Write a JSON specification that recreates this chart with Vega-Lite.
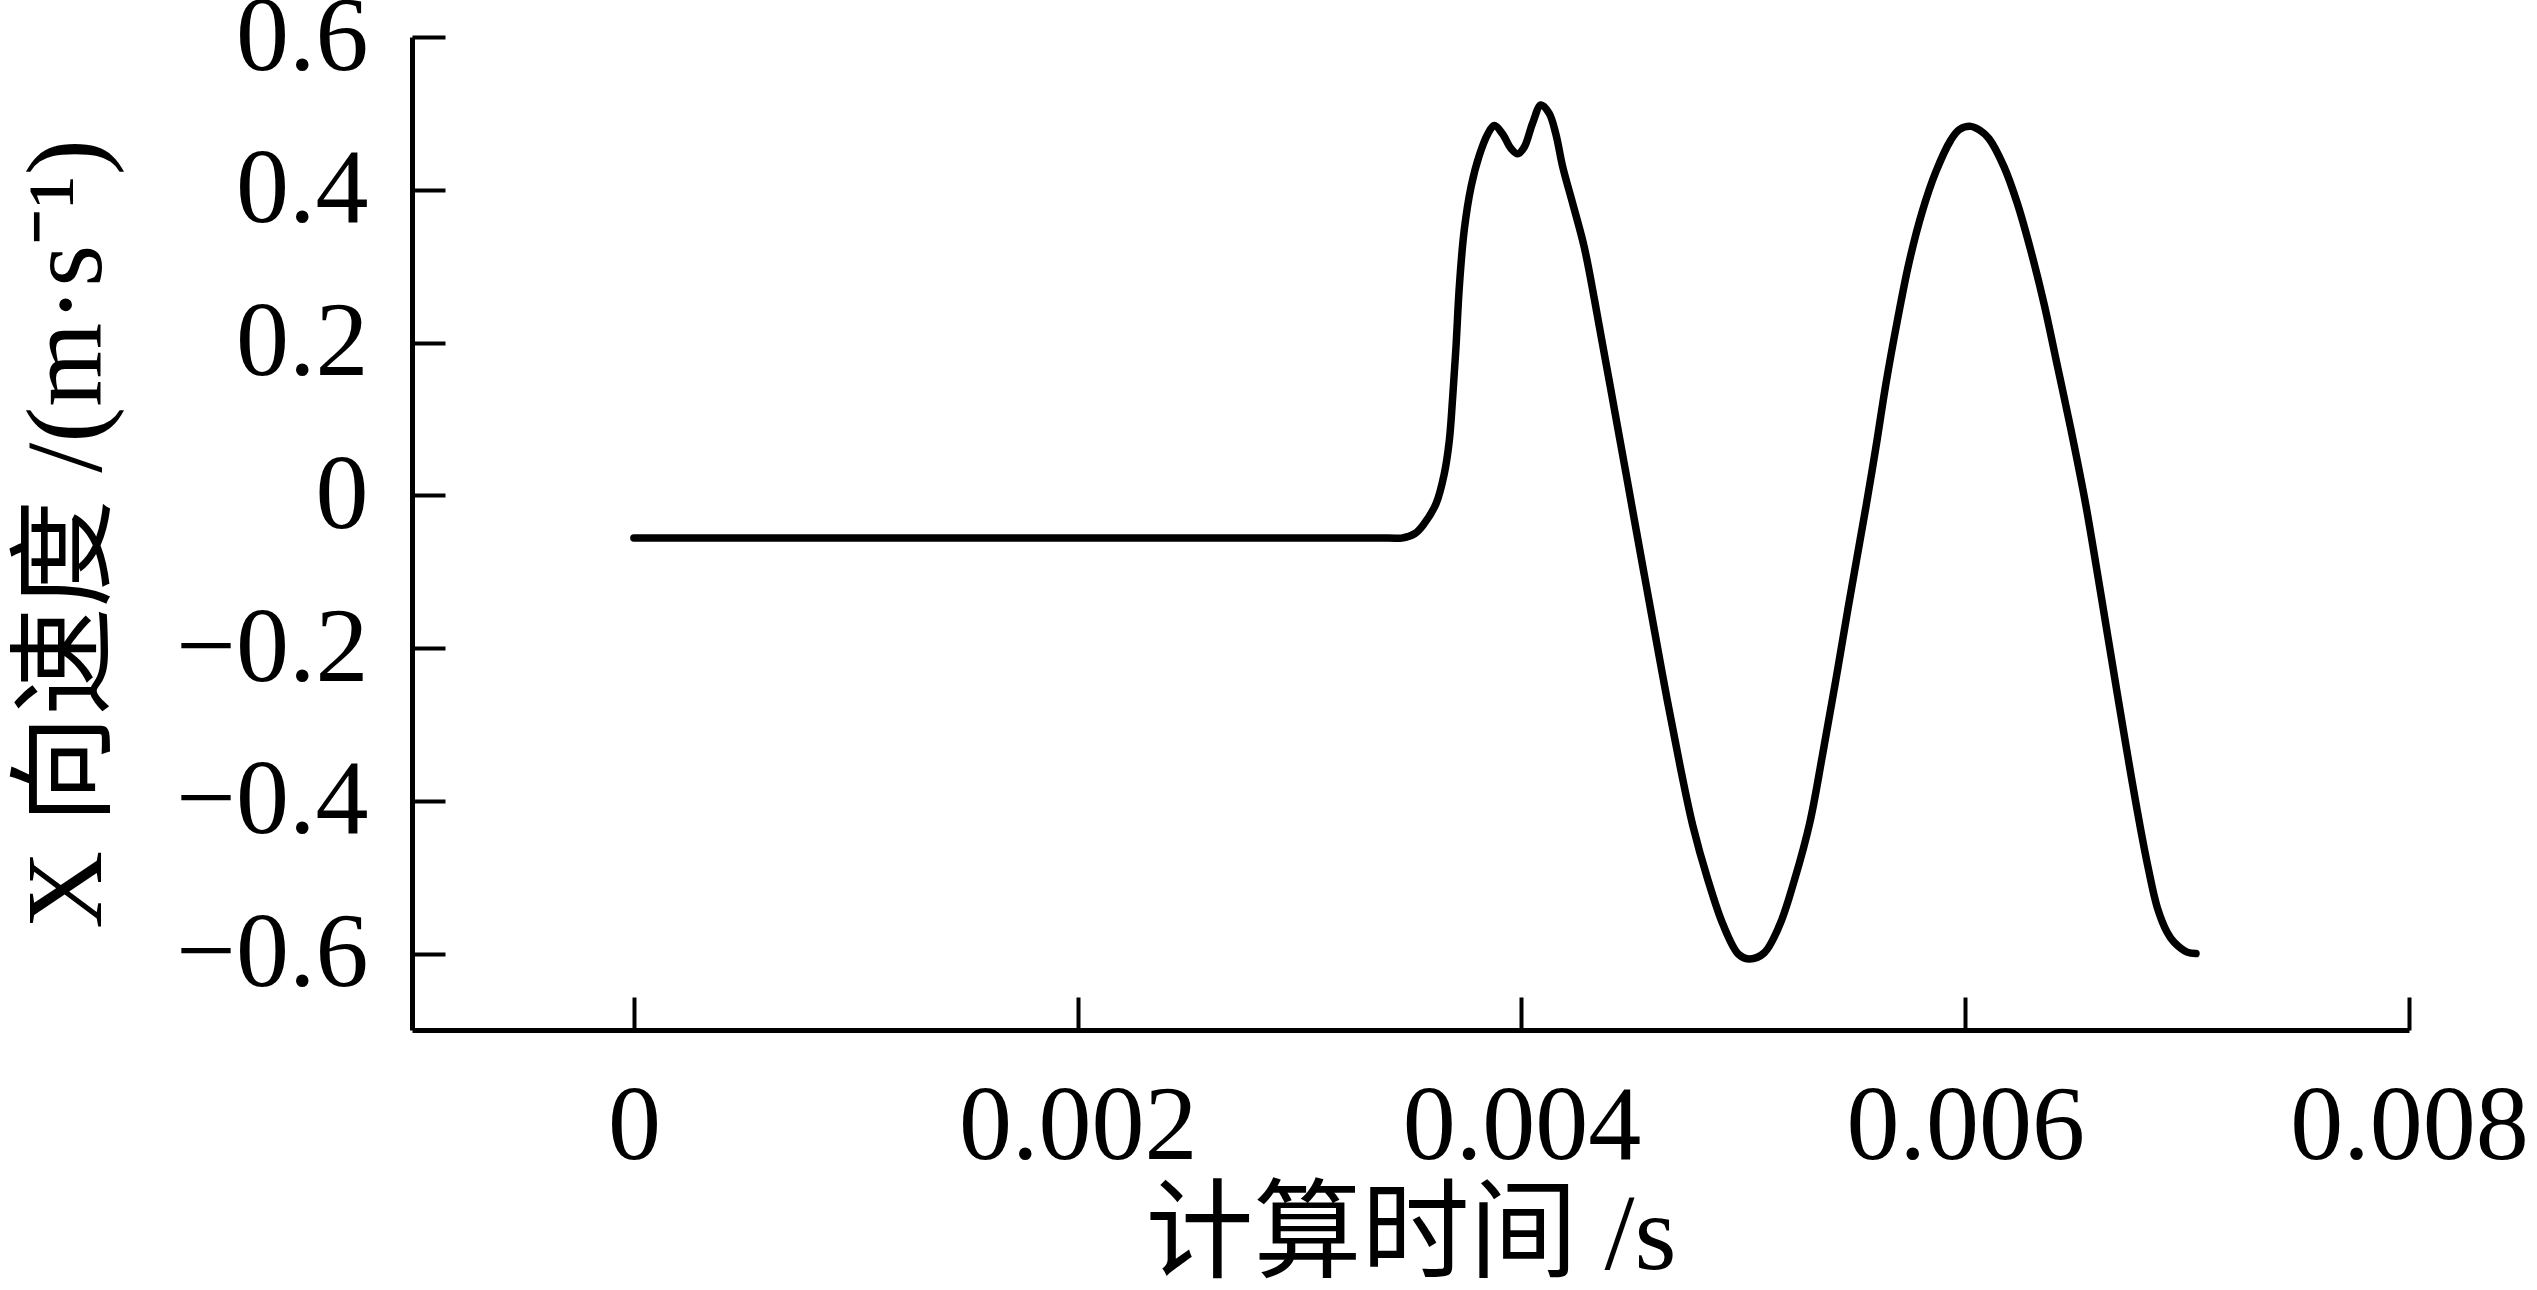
{
  "$schema": "https://vega.github.io/schema/vega-lite/v6.json",
  "width": 1997,
  "height": 993,
  "autosize": {"type": "none"},
  "padding": {"left": 412, "top": 37, "right": 128, "bottom": 260},
  "background": "white",
  "config": {
    "view": {"stroke": null},
    "axis": {
      "grid": false,
      "domainColor": "black",
      "domainWidth": 5,
      "tickColor": "black",
      "tickWidth": 4,
      "tickSize": -33,
      "labelPadding": 77,
      "labelFont": "Liberation Serif",
      "labelFontSize": 106,
      "labelColor": "black",
      "labelLimit": 0,
      "labelFlush": false,
      "labelOverlap": false,
      "titleFont": "Liberation Serif, Noto Sans CJK SC",
      "titleFontSize": 108,
      "titleFontWeight": "normal",
      "titleColor": "black",
      "titleLimit": 0
    }
  },
  "data": {
    "values": [
      {"t": 0, "v": -0.056},
      {"t": 0.0034, "v": -0.056},
      {"t": 0.00346, "v": -0.056},
      {"t": 0.00352, "v": -0.05},
      {"t": 0.003562, "v": -0.037},
      {"t": 0.003615, "v": -0.011},
      {"t": 0.003652, "v": 0.028},
      {"t": 0.003675, "v": 0.072},
      {"t": 0.00369, "v": 0.128},
      {"t": 0.003705, "v": 0.194},
      {"t": 0.00372, "v": 0.273},
      {"t": 0.003742, "v": 0.347},
      {"t": 0.003773, "v": 0.404},
      {"t": 0.00381, "v": 0.445},
      {"t": 0.003848, "v": 0.473},
      {"t": 0.003878, "v": 0.484},
      {"t": 0.003915, "v": 0.473},
      {"t": 0.003953, "v": 0.454},
      {"t": 0.003983, "v": 0.447},
      {"t": 0.004013, "v": 0.456},
      {"t": 0.00405, "v": 0.487},
      {"t": 0.004088, "v": 0.511},
      {"t": 0.004125, "v": 0.5},
      {"t": 0.004155, "v": 0.473},
      {"t": 0.004186, "v": 0.43},
      {"t": 0.004231, "v": 0.382},
      {"t": 0.004283, "v": 0.325},
      {"t": 0.004328, "v": 0.258},
      {"t": 0.004366, "v": 0.197},
      {"t": 0.0044, "v": 0.143},
      {"t": 0.004433, "v": 0.09},
      {"t": 0.004471, "v": 0.029},
      {"t": 0.00451, "v": -0.034},
      {"t": 0.004553, "v": -0.103},
      {"t": 0.0046, "v": -0.178},
      {"t": 0.004657, "v": -0.268},
      {"t": 0.004714, "v": -0.353},
      {"t": 0.004772, "v": -0.432},
      {"t": 0.00484, "v": -0.503},
      {"t": 0.00491, "v": -0.563},
      {"t": 0.004979, "v": -0.601},
      {"t": 0.005029, "v": -0.607},
      {"t": 0.005094, "v": -0.599},
      {"t": 0.005163, "v": -0.563},
      {"t": 0.005231, "v": -0.503},
      {"t": 0.0053, "v": -0.428},
      {"t": 0.005358, "v": -0.338},
      {"t": 0.005415, "v": -0.245},
      {"t": 0.005473, "v": -0.146},
      {"t": 0.005552, "v": -0.016},
      {"t": 0.005597, "v": 0.062},
      {"t": 0.005642, "v": 0.145},
      {"t": 0.005695, "v": 0.23},
      {"t": 0.005747, "v": 0.305},
      {"t": 0.005807, "v": 0.372},
      {"t": 0.005867, "v": 0.423},
      {"t": 0.005935, "v": 0.465},
      {"t": 0.005975, "v": 0.479},
      {"t": 0.006025, "v": 0.483},
      {"t": 0.006065, "v": 0.478},
      {"t": 0.006107, "v": 0.467},
      {"t": 0.006175, "v": 0.43},
      {"t": 0.006235, "v": 0.382},
      {"t": 0.006295, "v": 0.321},
      {"t": 0.006355, "v": 0.251},
      {"t": 0.006415, "v": 0.17},
      {"t": 0.006475, "v": 0.088},
      {"t": 0.006543, "v": -0.012},
      {"t": 0.00659, "v": -0.092},
      {"t": 0.00664, "v": -0.18},
      {"t": 0.006686, "v": -0.261},
      {"t": 0.006723, "v": -0.325},
      {"t": 0.006753, "v": -0.376},
      {"t": 0.006791, "v": -0.438},
      {"t": 0.006824, "v": -0.487},
      {"t": 0.006866, "v": -0.54},
      {"t": 0.00691, "v": -0.572},
      {"t": 0.006941, "v": -0.585},
      {"t": 0.007, "v": -0.598},
      {"t": 0.00704, "v": -0.6}
    ]
  },
  "mark": {"type": "line", "color": "black", "strokeWidth": 7.5, "interpolate": "catmull-rom", "strokeCap": "round"},
  "encoding": {
    "x": {
      "field": "t",
      "type": "quantitative",
      "scale": {"domain": [-0.001, 0.008], "nice": false, "zero": false},
      "axis": {
        "values": [0, 0.002, 0.004, 0.006, 0.008],
        "format": "~g",
        "title": "计算时间 /s",
        "titlePadding": 4
      }
    },
    "y": {
      "field": "v",
      "type": "quantitative",
      "scale": {"domain": [-0.7, 0.6], "nice": false, "zero": false},
      "axis": {
        "values": [-0.6, -0.4, -0.2, 0, 0.2, 0.4, 0.6],
        "format": "~g",
        "title": "X 向速度 /(m·s⁻¹)",
        "titlePadding": 89
      }
    }
  }
}
